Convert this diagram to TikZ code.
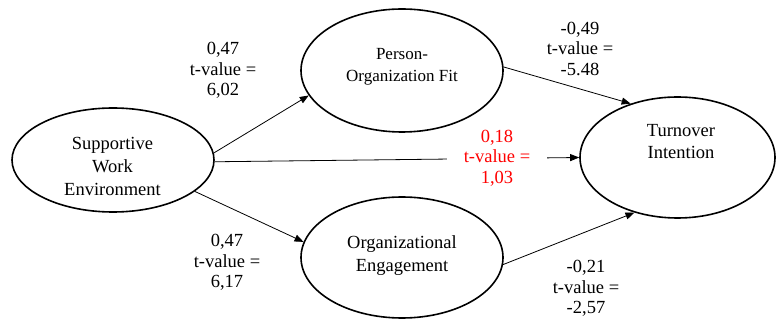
\documentclass[tikz,border=0pt]{standalone}
\usepackage{fontspec}
\setmainfont{Liberation Serif}
\usetikzlibrary{shapes.geometric,arrows.meta}
\definecolor{sigred}{RGB}{255,0,0}
\begin{document}
\begin{tikzpicture}[x=1pt,y=-1pt,
  construct/.style={draw,line width=1.6pt,ellipse,inner sep=0pt},
  nametext/.style={align=center,inner sep=0pt,font=\rmfamily\fontsize{18.5}{22}\selectfont},
  coef/.style={align=center,inner sep=0pt,font=\rmfamily\fontsize{18.5}{20.5}\selectfont},
  path/.style={line width=0.8pt,-{Triangle[length=9pt,width=7pt]}}]
\useasboundingbox (0,0) rectangle (776,320);

% latent constructs
\node[construct,minimum width=202pt,minimum height=104pt] (swe) at (113,160) {};
\node[construct,minimum width=202pt,minimum height=123pt] (pof) at (402,70.5) {};
\node[construct,minimum width=202pt,minimum height=121pt] (oe) at (402,257.5) {};
\node[construct,minimum width=195pt,minimum height=121pt] (ti) at (677.5,157.5) {};

% construct names
\node[nametext,font=\rmfamily\fontsize{18.5}{23}\selectfont] (swe-t) at (112.5,166.8) {Supportive\\Work\\Environment};
\node[nametext,font=\rmfamily\fontsize{17}{22}\selectfont] (pof-t) at (402,67.2) {Person-\\Organization Fit};
\node[nametext,font=\rmfamily\fontsize{18.5}{23.5}\selectfont] (oe-t) at (402,255.7) {Organizational\\Engagement};
\node[nametext] (ti-t) at (681,142) {Turnover\\Intention};

% structural paths
\draw[path] (swe.4) -- (pof.195);
\draw[path] (swe.-21) -- (oe.171);
\draw[path] (swe.-1) -- (ti.180);
\draw[path] (pof.2) -- (ti.131);
\draw[path] (oe.-4) -- (ti.232);

% path coefficients
\node[coef] (c1) at (223,70.5) {0,47\\t-value =\\6,02};
\node[coef] (c2) at (227,262.5) {0,47\\t-value =\\6,17};
\node[coef] (c3) at (580,48.8) {-0,49\\t-value =\\-5.48};
\node[coef] (c4) at (586,288.4) {-0,21\\t-value =\\-2,57};
\node[coef,text=sigred,fill=white,inner xsep=17pt,inner ysep=2pt] (c5) at (497,158) {0,18\\t-value =\\1,03};
\end{tikzpicture}
\end{document}
